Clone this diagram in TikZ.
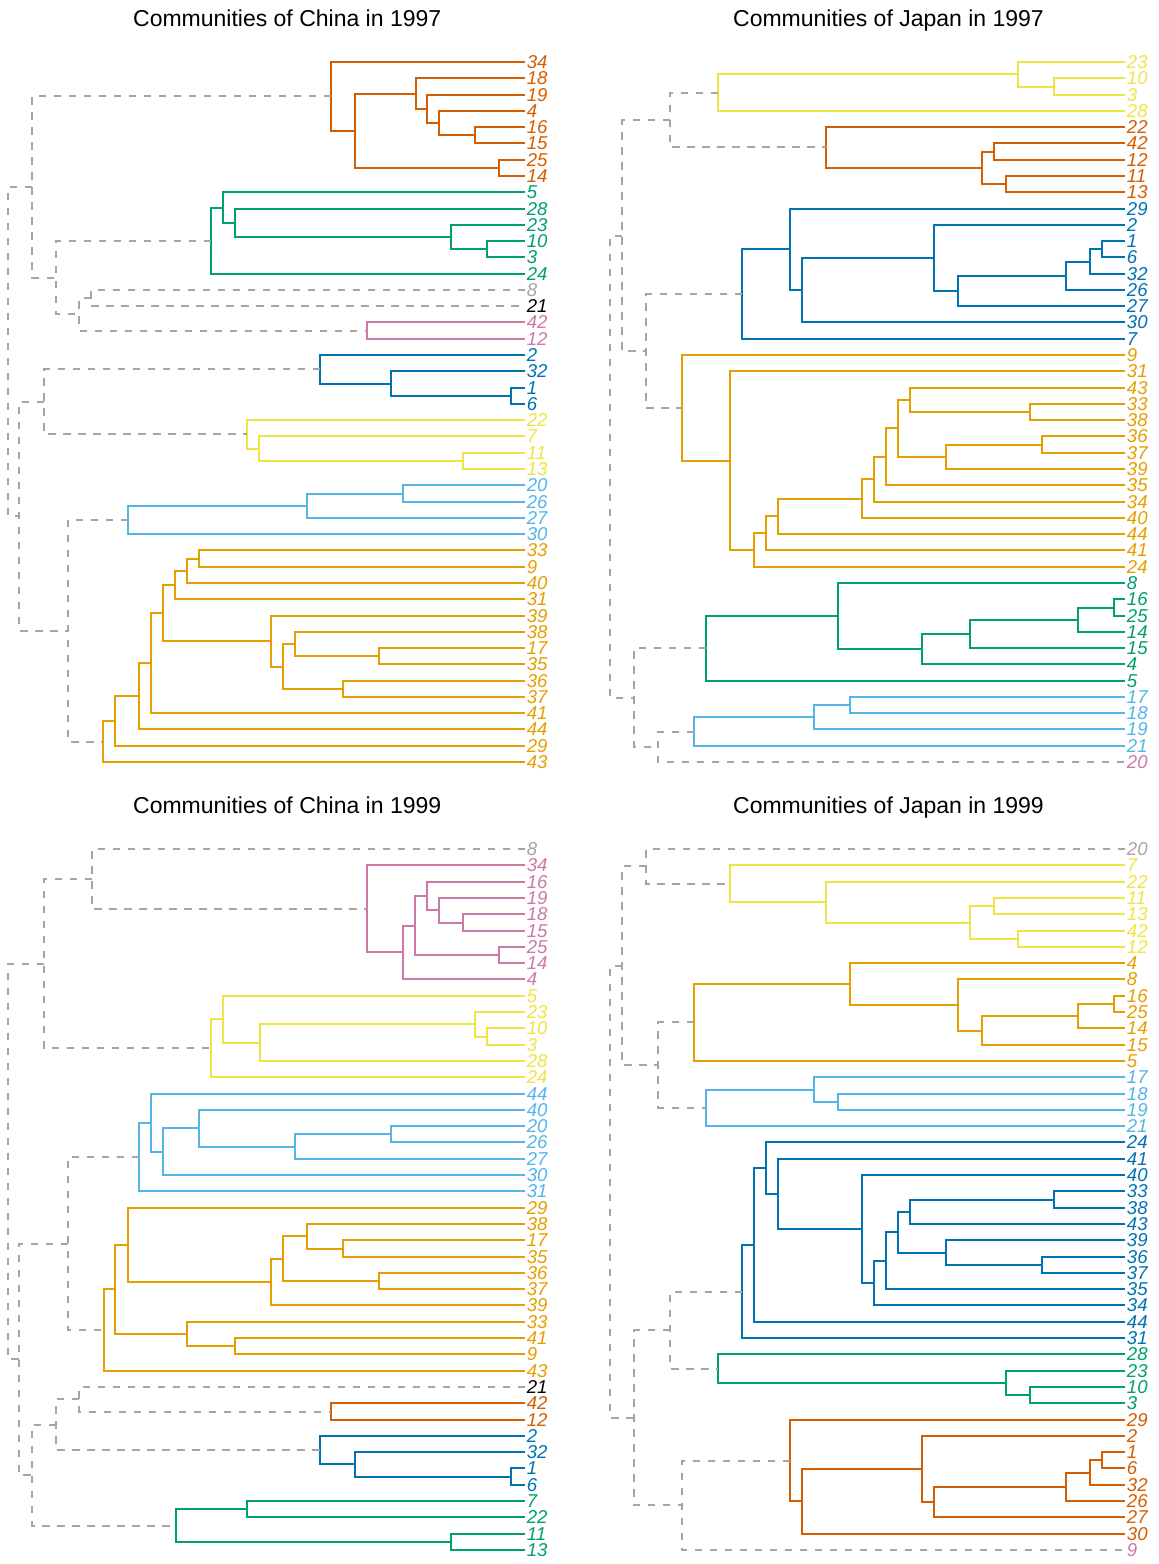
\documentclass[tikz,border=0pt]{standalone}
\usepackage{fontspec}
\setmainfont{Liberation Sans}
\definecolor{cVm}{RGB}{213,94,0}
\definecolor{cGn}{RGB}{0,158,115}
\definecolor{cPk}{RGB}{204,121,167}
\definecolor{cBl}{RGB}{0,114,178}
\definecolor{cYl}{RGB}{240,228,66}
\definecolor{cSb}{RGB}{86,180,233}
\definecolor{cOr}{RGB}{230,159,0}
\definecolor{cGy}{RGB}{165,165,165}
\tikzset{
  tr/.style={line width=1pt},
  kVm/.style={tr,draw=cVm}, kGn/.style={tr,draw=cGn}, kPk/.style={tr,draw=cPk},
  kBl/.style={tr,draw=cBl}, kYl/.style={tr,draw=cYl}, kSb/.style={tr,draw=cSb},
  kOr/.style={tr,draw=cOr},
  kGy/.style={tr,draw=cGy,dash pattern=on 3.75pt off 3.75pt},
  lab/.style={anchor=west,inner sep=0pt,font=\fontsize{9.3}{9.3}\selectfont\itshape},
  ttl/.style={anchor=base,inner sep=0pt,font=\fontsize{11.5}{12}\selectfont}
}
\newcommand\lf[4]{%
  \pgfmathsetmacro\tmpy{round(\PY+\DY*#2)}%
  \expandafter\xdef\csname yy#1\endcsname{\tmpy}%
  \coordinate (#1) at (\LX,\tmpy);
  \node[lab,text=#4] (#1t) at (\LX+1.5,\tmpy) {#3};}
\newcommand\jn[5]{%
  \pgfmathsetmacro\tmpy{(\csname yy#3\endcsname+\csname yy#4\endcsname)/2}%
  \expandafter\xdef\csname yy#1\endcsname{\tmpy}%
  \pgfmathsetmacro\tmpx{round(\PX+#2/2.71)}%
  \coordinate (#1) at (\tmpx,\tmpy);
  \draw[#5] (#3) -| (#1) |- (#4);}
\begin{document}
\begin{tikzpicture}[x=0.5pt,y=-0.5pt]
\path[fill=white,use as bounding box] (0,0) rectangle (1159,1564);
% titles
\node[ttl] (t1) at (287.2,26.7) {Communities of China in 1997};
\node[ttl] (t2) at (888.5,26.7) {Communities of Japan in 1997};
\node[ttl] (t3) at (287.2,813.7) {Communities of China in 1999};
\node[ttl] (t4) at (888.5,813.7) {Communities of Japan in 1999};
% ===== Panel A: China 1997 =====
\def\PX{0}\def\PY{62}\def\LX{525}\def\DY{16.28}
\lf{a0}{0}{34}{cVm}\lf{a1}{1}{18}{cVm}\lf{a2}{2}{19}{cVm}\lf{a3}{3}{4}{cVm}\lf{a4}{4}{16}{cVm}\lf{a5}{5}{15}{cVm}\lf{a6}{6}{25}{cVm}\lf{a7}{7}{14}{cVm}
\lf{a8}{8}{5}{cGn}\lf{a9}{9}{28}{cGn}\lf{a10}{10}{23}{cGn}\lf{a11}{11}{10}{cGn}\lf{a12}{12}{3}{cGn}\lf{a13}{13}{24}{cGn}
\lf{a14}{14}{8}{cGy}\lf{a15}{15}{21}{black}
\lf{a16}{16}{42}{cPk}\lf{a17}{17}{12}{cPk}
\lf{a18}{18}{2}{cBl}\lf{a19}{19}{32}{cBl}\lf{a20}{20}{1}{cBl}\lf{a21}{21}{6}{cBl}
\lf{a22}{22}{22}{cYl}\lf{a23}{23}{7}{cYl}\lf{a24}{24}{11}{cYl}\lf{a25}{25}{13}{cYl}
\lf{a26}{26}{20}{cSb}\lf{a27}{27}{26}{cSb}\lf{a28}{28}{27}{cSb}\lf{a29}{29}{30}{cSb}
\lf{a30}{30}{33}{cOr}\lf{a31}{31}{9}{cOr}\lf{a32}{32}{40}{cOr}\lf{a33}{33}{31}{cOr}\lf{a34}{34}{39}{cOr}\lf{a35}{35}{38}{cOr}\lf{a36}{36}{17}{cOr}\lf{a37}{37}{35}{cOr}\lf{a38}{38}{36}{cOr}\lf{a39}{39}{37}{cOr}\lf{a40}{40}{41}{cOr}\lf{a41}{41}{44}{cOr}\lf{a42}{42}{29}{cOr}\lf{a43}{43}{43}{cOr}
\jn{aV1}{1288}{a4}{a5}{kVm}
\jn{aV2}{1190}{a3}{aV1}{kVm}
\jn{aV3}{1158}{a2}{aV2}{kVm}
\jn{aV4}{1127}{a1}{aV3}{kVm}
\jn{aV5}{1353}{a6}{a7}{kVm}
\jn{aV6}{963}{aV4}{aV5}{kVm}
\jn{aV}{898}{a0}{aV6}{kVm}
\jn{aG1}{1320}{a11}{a12}{kGn}
\jn{aG2}{1222}{a10}{aG1}{kGn}
\jn{aG3}{638}{a9}{aG2}{kGn}
\jn{aG4}{605}{a8}{aG3}{kGn}
\jn{aG}{572}{aG4}{a13}{kGn}
\jn{aX1}{247}{a14}{a15}{kGy}
\jn{aP}{995}{a16}{a17}{kPk}
\jn{aX2}{215}{aX1}{aP}{kGy}
\jn{aX3}{151}{aG}{aX2}{kGy}
\jn{aX4}{87}{aV}{aX3}{kGy}
\jn{aB1}{1385}{a20}{a21}{kBl}
\jn{aB2}{1060}{a19}{aB1}{kBl}
\jn{aB}{866}{a18}{aB2}{kBl}
\jn{aY1}{1255}{a24}{a25}{kYl}
\jn{aY2}{703}{a23}{aY1}{kYl}
\jn{aY}{670}{a22}{aY2}{kYl}
\jn{aX5}{118}{aB}{aY}{kGy}
\jn{aS1}{1093}{a26}{a27}{kSb}
\jn{aS2}{833}{aS1}{a28}{kSb}
\jn{aS}{346}{aS2}{a29}{kSb}
\jn{aO1}{540}{a30}{a31}{kOr}
\jn{aO2}{508}{aO1}{a32}{kOr}
\jn{aO3}{475}{aO2}{a33}{kOr}
\jn{aO4}{1028}{a36}{a37}{kOr}
\jn{aO5}{800}{a35}{aO4}{kOr}
\jn{aO6}{930}{a38}{a39}{kOr}
\jn{aO7}{768}{aO5}{aO6}{kOr}
\jn{aO8}{735}{a34}{aO7}{kOr}
\jn{aO9}{443}{aO3}{aO8}{kOr}
\jn{aO10}{410}{aO9}{a40}{kOr}
\jn{aO11}{378}{aO10}{a41}{kOr}
\jn{aO12}{313}{aO11}{a42}{kOr}
\jn{aO}{280}{aO12}{a43}{kOr}
\jn{aX6}{183}{aS}{aO}{kGy}
\jn{aX7}{52}{aX5}{aX6}{kGy}
\jn{aR}{22}{aX4}{aX7}{kGy}
% ===== Panel B: Japan 1997 =====
\def\PX{580}\def\PY{62}\def\LX{1125}\def\DY{16.28}
\lf{b0}{0}{23}{cYl}\lf{b1}{1}{10}{cYl}\lf{b2}{2}{3}{cYl}\lf{b3}{3}{28}{cYl}
\lf{b4}{4}{22}{cVm}\lf{b5}{5}{42}{cVm}\lf{b6}{6}{12}{cVm}\lf{b7}{7}{11}{cVm}\lf{b8}{8}{13}{cVm}
\lf{b9}{9}{29}{cBl}\lf{b10}{10}{2}{cBl}\lf{b11}{11}{1}{cBl}\lf{b12}{12}{6}{cBl}\lf{b13}{13}{32}{cBl}\lf{b14}{14}{26}{cBl}\lf{b15}{15}{27}{cBl}\lf{b16}{16}{30}{cBl}\lf{b17}{17}{7}{cBl}
\lf{b18}{18}{9}{cOr}\lf{b19}{19}{31}{cOr}\lf{b20}{20}{43}{cOr}\lf{b21}{21}{33}{cOr}\lf{b22}{22}{38}{cOr}\lf{b23}{23}{36}{cOr}\lf{b24}{24}{37}{cOr}\lf{b25}{25}{39}{cOr}\lf{b26}{26}{35}{cOr}\lf{b27}{27}{34}{cOr}\lf{b28}{28}{40}{cOr}\lf{b29}{29}{44}{cOr}\lf{b30}{30}{41}{cOr}\lf{b31}{31}{24}{cOr}
\lf{b32}{32}{8}{cGn}\lf{b33}{33}{16}{cGn}\lf{b34}{34}{25}{cGn}\lf{b35}{35}{14}{cGn}\lf{b36}{36}{15}{cGn}\lf{b37}{37}{4}{cGn}\lf{b38}{38}{5}{cGn}
\lf{b39}{39}{17}{cSb}\lf{b40}{40}{18}{cSb}\lf{b41}{41}{19}{cSb}\lf{b42}{42}{21}{cSb}
\lf{b43}{43}{20}{cPk}
\jn{bY1}{1285}{b1}{b2}{kYl}
\jn{bY2}{1187}{b0}{bY1}{kYl}
\jn{bY}{375}{bY2}{b3}{kYl}
\jn{bV1}{1122}{b5}{b6}{kVm}
\jn{bV2}{1155}{b7}{b8}{kVm}
\jn{bV3}{1090}{bV1}{bV2}{kVm}
\jn{bV}{667}{b4}{bV3}{kVm}
\jn{bX1}{243}{bY}{bV}{kGy}
\jn{bB1}{1415}{b11}{b12}{kBl}
\jn{bB2}{1383}{bB1}{b13}{kBl}
\jn{bB3}{1318}{bB2}{b14}{kBl}
\jn{bB4}{1025}{bB3}{b15}{kBl}
\jn{bB5}{960}{b10}{bB4}{kBl}
\jn{bB6}{601}{bB5}{b16}{kBl}
\jn{bB7}{569}{b9}{bB6}{kBl}
\jn{bB}{438}{bB7}{b17}{kBl}
\jn{bO1}{1220}{b21}{b22}{kOr}
\jn{bO2}{893}{b20}{bO1}{kOr}
\jn{bO3}{1253}{b23}{b24}{kOr}
\jn{bO4}{992}{bO3}{b25}{kOr}
\jn{bO5}{862}{bO2}{bO4}{kOr}
\jn{bO6}{830}{bO5}{b26}{kOr}
\jn{bO7}{797}{bO6}{b27}{kOr}
\jn{bO8}{765}{bO7}{b28}{kOr}
\jn{bO9}{537}{bO8}{b29}{kOr}
\jn{bO10}{504}{bO9}{b30}{kOr}
\jn{bO11}{471}{bO10}{b31}{kOr}
\jn{bO12}{407}{b19}{bO11}{kOr}
\jn{bO}{277}{b18}{bO12}{kOr}
\jn{bX2}{178}{bB}{bO}{kGy}
\jn{bX3}{113}{bX1}{bX2}{kGy}
\jn{bG1}{1447}{b33}{b34}{kGn}
\jn{bG2}{1350}{bG1}{b35}{kGn}
\jn{bG3}{1057}{bG2}{b36}{kGn}
\jn{bG4}{927}{bG3}{b37}{kGn}
\jn{bG5}{699}{b32}{bG4}{kGn}
\jn{bG}{342}{bG5}{b38}{kGn}
\jn{bS1}{732}{b39}{b40}{kSb}
\jn{bS2}{634}{bS1}{b41}{kSb}
\jn{bS}{309}{bS2}{b42}{kSb}
\jn{bX4}{211}{bS}{b43}{kGy}
\jn{bX5}{147}{bG}{bX4}{kGy}
\jn{bR}{80}{bX3}{bX5}{kGy}
% ===== Panel C: China 1999 =====
\def\PX{0}\def\PY{849}\def\LX{525}\def\DY{16.3}
\lf{c0}{0}{8}{cGy}
\lf{c1}{1}{34}{cPk}\lf{c2}{2}{16}{cPk}\lf{c3}{3}{19}{cPk}\lf{c4}{4}{18}{cPk}\lf{c5}{5}{15}{cPk}\lf{c6}{6}{25}{cPk}\lf{c7}{7}{14}{cPk}\lf{c8}{8}{4}{cPk}
\lf{c9}{9}{5}{cYl}\lf{c10}{10}{23}{cYl}\lf{c11}{11}{10}{cYl}\lf{c12}{12}{3}{cYl}\lf{c13}{13}{28}{cYl}\lf{c14}{14}{24}{cYl}
\lf{c15}{15}{44}{cSb}\lf{c16}{16}{40}{cSb}\lf{c17}{17}{20}{cSb}\lf{c18}{18}{26}{cSb}\lf{c19}{19}{27}{cSb}\lf{c20}{20}{30}{cSb}\lf{c21}{21}{31}{cSb}
\lf{c22}{22}{29}{cOr}\lf{c23}{23}{38}{cOr}\lf{c24}{24}{17}{cOr}\lf{c25}{25}{35}{cOr}\lf{c26}{26}{36}{cOr}\lf{c27}{27}{37}{cOr}\lf{c28}{28}{39}{cOr}\lf{c29}{29}{33}{cOr}\lf{c30}{30}{41}{cOr}\lf{c31}{31}{9}{cOr}\lf{c32}{32}{43}{cOr}
\lf{c33}{33}{21}{black}
\lf{c34}{34}{42}{cVm}\lf{c35}{35}{12}{cVm}
\lf{c36}{36}{2}{cBl}\lf{c37}{37}{32}{cBl}\lf{c38}{38}{1}{cBl}\lf{c39}{39}{6}{cBl}
\lf{c40}{40}{7}{cGn}\lf{c41}{41}{22}{cGn}\lf{c42}{42}{11}{cGn}\lf{c43}{43}{13}{cGn}
\jn{cP1}{1255}{c4}{c5}{kPk}
\jn{cP2}{1190}{c3}{cP1}{kPk}
\jn{cP3}{1158}{c2}{cP2}{kPk}
\jn{cP4}{1353}{c6}{c7}{kPk}
\jn{cP5}{1126}{cP3}{cP4}{kPk}
\jn{cP6}{1093}{cP5}{c8}{kPk}
\jn{cP}{995}{c1}{cP6}{kPk}
\jn{cX1}{248}{c0}{cP}{kGy}
\jn{cY1}{1320}{c11}{c12}{kYl}
\jn{cY2}{1287}{c10}{cY1}{kYl}
\jn{cY3}{705}{cY2}{c13}{kYl}
\jn{cY4}{605}{c9}{cY3}{kYl}
\jn{cY}{572}{cY4}{c14}{kYl}
\jn{cX2}{118}{cX1}{cY}{kGy}
\jn{cS1}{1060}{c17}{c18}{kSb}
\jn{cS2}{800}{cS1}{c19}{kSb}
\jn{cS3}{540}{c16}{cS2}{kSb}
\jn{cS4}{443}{cS3}{c20}{kSb}
\jn{cS5}{410}{c15}{cS4}{kSb}
\jn{cS}{378}{cS5}{c21}{kSb}
\jn{cO1}{930}{c24}{c25}{kOr}
\jn{cO2}{833}{c23}{cO1}{kOr}
\jn{cO3}{1028}{c26}{c27}{kOr}
\jn{cO4}{768}{cO2}{cO3}{kOr}
\jn{cO5}{735}{cO4}{c28}{kOr}
\jn{cO6}{346}{c22}{cO5}{kOr}
\jn{cO7}{638}{c30}{c31}{kOr}
\jn{cO8}{508}{c29}{cO7}{kOr}
\jn{cO9}{313}{cO6}{cO8}{kOr}
\jn{cO}{281}{cO9}{c32}{kOr}
\jn{cX3}{183}{cS}{cO}{kGy}
\jn{cV}{898}{c34}{c35}{kVm}
\jn{cX4}{215}{c33}{cV}{kGy}
\jn{cB1}{1385}{c38}{c39}{kBl}
\jn{cB2}{963}{c37}{cB1}{kBl}
\jn{cB}{866}{c36}{cB2}{kBl}
\jn{cX5}{151}{cX4}{cB}{kGy}
\jn{cG1}{670}{c40}{c41}{kGn}
\jn{cG2}{1222}{c42}{c43}{kGn}
\jn{cG}{476}{cG1}{cG2}{kGn}
\jn{cX6}{87}{cX5}{cG}{kGy}
\jn{cX7}{52}{cX3}{cX6}{kGy}
\jn{cR}{22}{cX2}{cX7}{kGy}
% ===== Panel D: Japan 1999 =====
\def\PX{580}\def\PY{849}\def\LX{1125}\def\DY{16.3}
\lf{d0}{0}{20}{cGy}
\lf{d1}{1}{7}{cYl}\lf{d2}{2}{22}{cYl}\lf{d3}{3}{11}{cYl}\lf{d4}{4}{13}{cYl}\lf{d5}{5}{42}{cYl}\lf{d6}{6}{12}{cYl}
\lf{d7}{7}{4}{cOr}\lf{d8}{8}{8}{cOr}\lf{d9}{9}{16}{cOr}\lf{d10}{10}{25}{cOr}\lf{d11}{11}{14}{cOr}\lf{d12}{12}{15}{cOr}\lf{d13}{13}{5}{cOr}
\lf{d14}{14}{17}{cSb}\lf{d15}{15}{18}{cSb}\lf{d16}{16}{19}{cSb}\lf{d17}{17}{21}{cSb}
\lf{d18}{18}{24}{cBl}\lf{d19}{19}{41}{cBl}\lf{d20}{20}{40}{cBl}\lf{d21}{21}{33}{cBl}\lf{d22}{22}{38}{cBl}\lf{d23}{23}{43}{cBl}\lf{d24}{24}{39}{cBl}\lf{d25}{25}{36}{cBl}\lf{d26}{26}{37}{cBl}\lf{d27}{27}{35}{cBl}\lf{d28}{28}{34}{cBl}\lf{d29}{29}{44}{cBl}\lf{d30}{30}{31}{cBl}
\lf{d31}{31}{28}{cGn}\lf{d32}{32}{23}{cGn}\lf{d33}{33}{10}{cGn}\lf{d34}{34}{3}{cGn}
\lf{d35}{35}{29}{cVm}\lf{d36}{36}{2}{cVm}\lf{d37}{37}{1}{cVm}\lf{d38}{38}{6}{cVm}\lf{d39}{39}{32}{cVm}\lf{d40}{40}{26}{cVm}\lf{d41}{41}{27}{cVm}\lf{d42}{42}{30}{cVm}
\lf{d43}{43}{9}{cPk}
\jn{dY1}{1122}{d3}{d4}{kYl}
\jn{dY2}{1188}{d5}{d6}{kYl}
\jn{dY3}{1057}{dY1}{dY2}{kYl}
\jn{dY4}{667}{d2}{dY3}{kYl}
\jn{dY}{407}{d1}{dY4}{kYl}
\jn{dX1}{178}{d0}{dY}{kGy}
\jn{dO1}{1447}{d9}{d10}{kOr}
\jn{dO2}{1350}{dO1}{d11}{kOr}
\jn{dO3}{1090}{dO2}{d12}{kOr}
\jn{dO4}{1024}{d8}{dO3}{kOr}
\jn{dO5}{732}{d7}{dO4}{kOr}
\jn{dO}{309}{dO5}{d13}{kOr}
\jn{dS1}{699}{d15}{d16}{kSb}
\jn{dS2}{634}{d14}{dS1}{kSb}
\jn{dS}{342}{dS2}{d17}{kSb}
\jn{dX2}{211}{dO}{dS}{kGy}
\jn{dX3}{113}{dX1}{dX2}{kGy}
\jn{dB1}{1285}{d21}{d22}{kBl}
\jn{dB2}{895}{dB1}{d23}{kBl}
\jn{dB3}{1252}{d25}{d26}{kBl}
\jn{dB4}{992}{d24}{dB3}{kBl}
\jn{dB5}{862}{dB2}{dB4}{kBl}
\jn{dB6}{830}{dB5}{d27}{kBl}
\jn{dB7}{797}{dB6}{d28}{kBl}
\jn{dB8}{765}{d20}{dB7}{kBl}
\jn{dB9}{537}{d19}{dB8}{kBl}
\jn{dB10}{504}{d18}{dB9}{kBl}
\jn{dB11}{472}{dB10}{d29}{kBl}
\jn{dB}{439}{dB11}{d30}{kBl}
\jn{dG1}{1220}{d33}{d34}{kGn}
\jn{dG2}{1155}{d32}{dG1}{kGn}
\jn{dG}{374}{d31}{dG2}{kGn}
\jn{dX4}{243}{dB}{dG}{kGy}
\jn{dV1}{1415}{d37}{d38}{kVm}
\jn{dV2}{1383}{dV1}{d39}{kVm}
\jn{dV3}{1318}{dV2}{d40}{kVm}
\jn{dV4}{960}{dV3}{d41}{kVm}
\jn{dV5}{927}{d36}{dV4}{kVm}
\jn{dV6}{601}{dV5}{d42}{kVm}
\jn{dV}{569}{d35}{dV6}{kVm}
\jn{dX5}{277}{dV}{d43}{kGy}
\jn{dX6}{147}{dX4}{dX5}{kGy}
\jn{dR}{80}{dX3}{dX6}{kGy}
\end{tikzpicture}
\end{document}
